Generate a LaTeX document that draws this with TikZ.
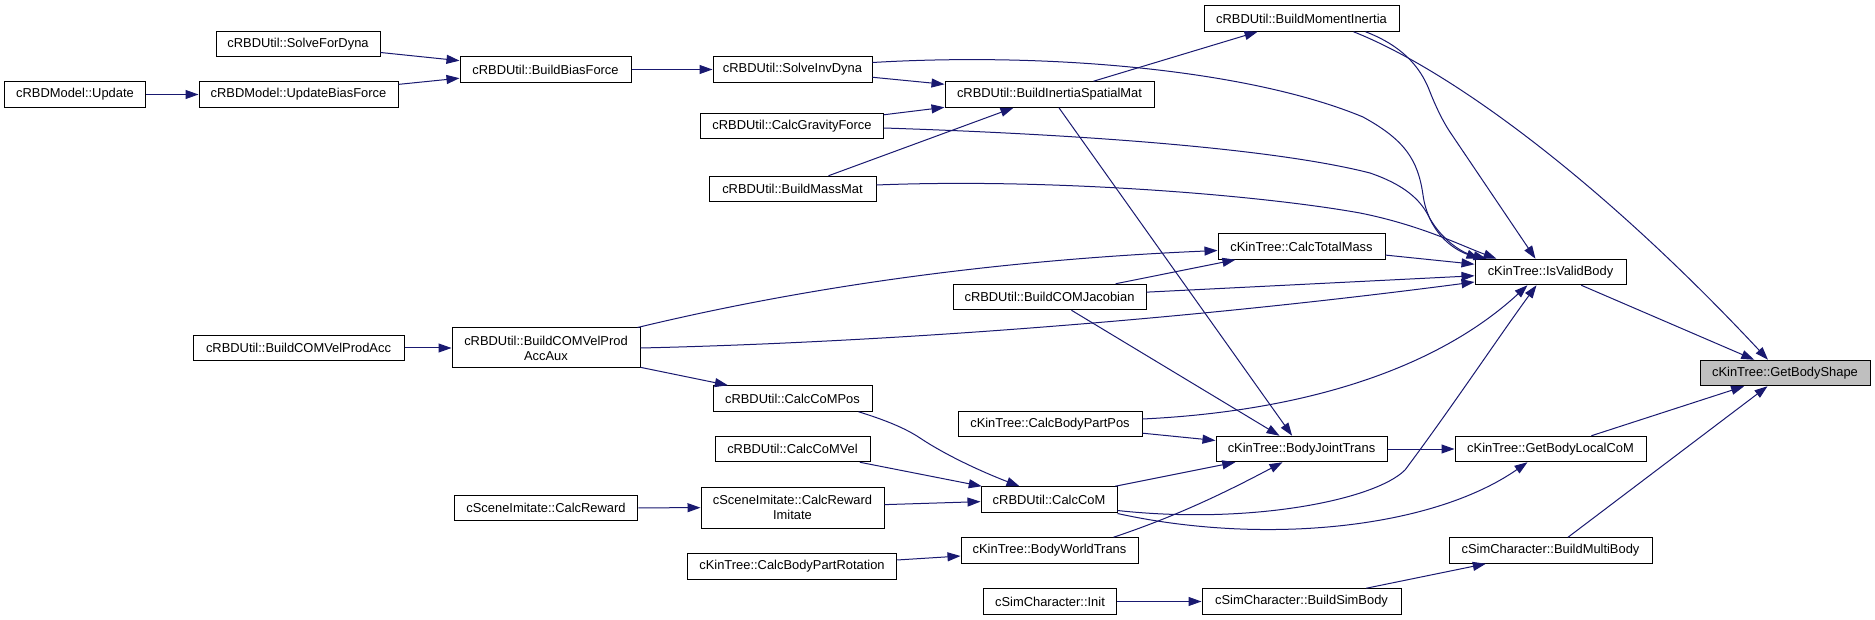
\documentclass[tikz,border=0pt]{standalone}
\usepackage{fontspec}
\setmainfont{Liberation Sans}
\usetikzlibrary{arrows.meta,calc}
\definecolor{edgeblue}{HTML}{191970}
\definecolor{focusgray}{HTML}{BFBFBF}
\begin{document}
\begin{tikzpicture}[x=1pt,y=-1pt,
  box/.style={draw=black, line width=1pt, fill=white, inner sep=0pt,
    minimum height=25.5pt, font=\fontsize{12.9}{15}\selectfont, align=center, text=black},
  focus/.style={box, fill=focusgray},
  e/.style={draw=edgeblue, line width=1pt, -{Triangle[length=13pt,width=9pt]}, edgeblue}]
\useasboundingbox (0,0) rectangle (1875,620);
\fill[white] (0,0) rectangle (1875,620);
% nodes
\node[box, minimum width=164pt] (sfd) at (298,44) {cRBDUtil::SolveForDyna};
\node[box, minimum width=171pt] (bbf) at (545.5,69.5) {cRBDUtil::BuildBiasForce};
\node[box, minimum width=141pt] (upd) at (75,94.5) {cRBDModel::Update};
\node[box, minimum width=199pt] (ubf) at (298.5,94.5) {cRBDModel::UpdateBiasForce};
\node[box, minimum width=195pt] (bmi) at (1301.5,18.5) {cRBDUtil::BuildMomentInertia};
\node[box, minimum width=159pt] (sid) at (792.5,69.5) {cRBDUtil::SolveInvDyna};
\node[box, minimum width=209pt] (bsm) at (1049.5,94.5) {cRBDUtil::BuildInertiaSpatialMat};
\node[box, minimum width=182.5pt] (cgf) at (792,126) {cRBDUtil::CalcGravityForce};
\node[box, minimum width=167pt] (bmm) at (792.5,189) {cRBDUtil::BuildMassMat};
\node[box, minimum width=167pt] (ctm) at (1301.5,246.5) {cKinTree::CalcTotalMass};
\node[box, minimum width=193pt] (bcj) at (1049.5,297) {cRBDUtil::BuildCOMJacobian};
\node[box, minimum width=151pt] (ivb) at (1550.5,272) {cKinTree::IsValidBody};
\node[focus, minimum width=170pt] (gbs) at (1785,373) {cKinTree::GetBodyShape};
\node[box, minimum width=211pt] (vpa) at (298.5,348) {cRBDUtil::BuildCOMVelProdAcc};
\node[box, minimum width=188pt, minimum height=40pt] (aux) at (546,348) {cRBDUtil::BuildCOMVelProd\\AccAux};
\node[box, minimum width=159pt] (cmp) at (792.5,398.5) {cRBDUtil::CalcCoMPos};
\node[box, minimum width=184pt] (bpp) at (1050,424) {cKinTree::CalcBodyPartPos};
\node[box, minimum width=155pt] (cmv) at (792.5,449) {cRBDUtil::CalcCoMVel};
\node[box, minimum width=171pt] (bjt) at (1301.5,449) {cKinTree::BodyJointTrans};
\node[box, minimum width=191pt] (glc) at (1550.5,449) {cKinTree::GetBodyLocalCoM};
\node[box, minimum width=183.5pt] (crw) at (546,508) {cSceneImitate::CalcReward};
\node[box, minimum width=183pt, minimum height=41pt] (cri) at (792.5,507.5) {cSceneImitate::CalcReward\\Imitate};
\node[box, minimum width=136pt] (cc) at (1049,499.5) {cRBDUtil::CalcCoM};
\node[box, minimum width=177pt] (bwt) at (1049.5,550.5) {cKinTree::BodyWorldTrans};
\node[box, minimum width=209.5pt] (bpr) at (792,566.5) {cKinTree::CalcBodyPartRotation};
\node[box, minimum width=203pt] (bmb) at (1550.5,550.5) {cSimCharacter::BuildMultiBody};
\node[box, minimum width=133.5pt] (ini) at (1050,601.5) {cSimCharacter::Init};
\node[box, minimum width=199pt] (bsb) at (1301.5,601.5) {cSimCharacter::BuildSimBody};
% straight edges
\draw[e] (sfd) -- (bbf);
\draw[e] (ubf) -- (bbf);
\draw[e] (upd) -- (ubf);
\draw[e] (bbf) -- (sid);
\draw[e] (sid) -- (bsm);
\draw[e] (cgf) -- (bsm);
\draw[e] (bmm) -- (bsm);
\draw[e] (bsm) -- (bmi);
\draw[e] (bsm) -- (bjt);
\draw[e] (ctm) -- (ivb);
\draw[e] (bcj) -- (ctm);
\draw[e] (bcj) -- (ivb);
\draw[e] (bcj) -- (bjt);
\draw[e] (vpa) -- (aux);
\draw[e] (aux) -- (cmp);
\draw[e] (ivb) -- (gbs);
\draw[e] (bpp) -- (bjt);
\draw[e] (cmv) -- (cc);
\draw[e] (cc) -- (bjt);
\draw[e] (bjt) -- (glc);
\draw[e] (glc) -- (gbs);
\draw[e] (crw) -- (cri);
\draw[e] (cri) -- (cc);
\draw[e] (bpr) -- (bwt);
\draw[e] (bmb) -- (gbs);
\draw[e] (ini) -- (bsb);
\draw[e] (bsb) -- (bmb);
% curved edges
\draw[e] ($(sid.east)+(0,-7)$) .. controls (1050,52) and (1250,70) .. (1363,117)
  .. controls (1405,140) and (1418,160) .. (1423,195)
  .. controls (1428,230) and (1450,248) .. ($(ivb.north west)+(5,0)$);
\draw[e] ($(cgf.east)+(0,2)$) .. controls (1100,135) and (1280,150) .. (1370,173)
  .. controls (1405,185) and (1420,200) .. (1428,215)
  .. controls (1438,235) and (1458,252) .. ($(ivb.north west)+(12,0)$);
\draw[e] ($(bmm.east)+(0,-4)$) .. controls (1050,178) and (1260,195) .. (1360,213)
  .. controls (1420,225) and (1460,245) .. ($(ivb.north west)+(22,0)$);
\draw[e] ($(bmi.south east)+(-34,0)$) .. controls (1400,45) and (1420,65) .. (1430,92)
  .. controls (1438,112) and (1445,125) .. (1452,135) -- ($(ivb.north)+(-15,0)$);
\draw[e] ($(bmi.south east)+(-46,0)$) .. controls (1450,70) and (1600,180) .. ($(gbs.north)+(-17,0)$);
\draw[e] ($(aux.north east)+(-3,0)$) .. controls (760,298) and (950,262) .. ($(ctm.west)+(0,4)$);
\draw[e] (aux.east) .. controls (900,342) and (1200,318) .. ($(ivb.west)+(0,10)$);
\draw[e] ($(cmp.south east)+(-14,0)$) .. controls (885,420) and (905,428) .. (920,438)
  .. controls (950,458) and (990,475) .. ($(cc.north west)+(39,0)$);
\draw[e] ($(bpp.east)+(0,-5)$) .. controls (1290,412) and (1430,375) .. ($(ivb.south)+(-23,0)$);
\draw[e] ($(cc.east)+(0,11)$) .. controls (1250,525) and (1375,500) .. (1405,470)
  .. controls (1450,410) and (1500,335) .. ($(ivb.south)+(-14,0)$);
\draw[e] ($(cc.east)+(0,14)$) .. controls (1260,545) and (1430,530) .. ($(glc.south)+(-23,0)$);
\draw[e] ($(bwt.north east)+(-25,0)$) .. controls (1180,515) and (1230,490) .. ($(bjt.south)+(-19,0)$);
\end{tikzpicture}
\end{document}
